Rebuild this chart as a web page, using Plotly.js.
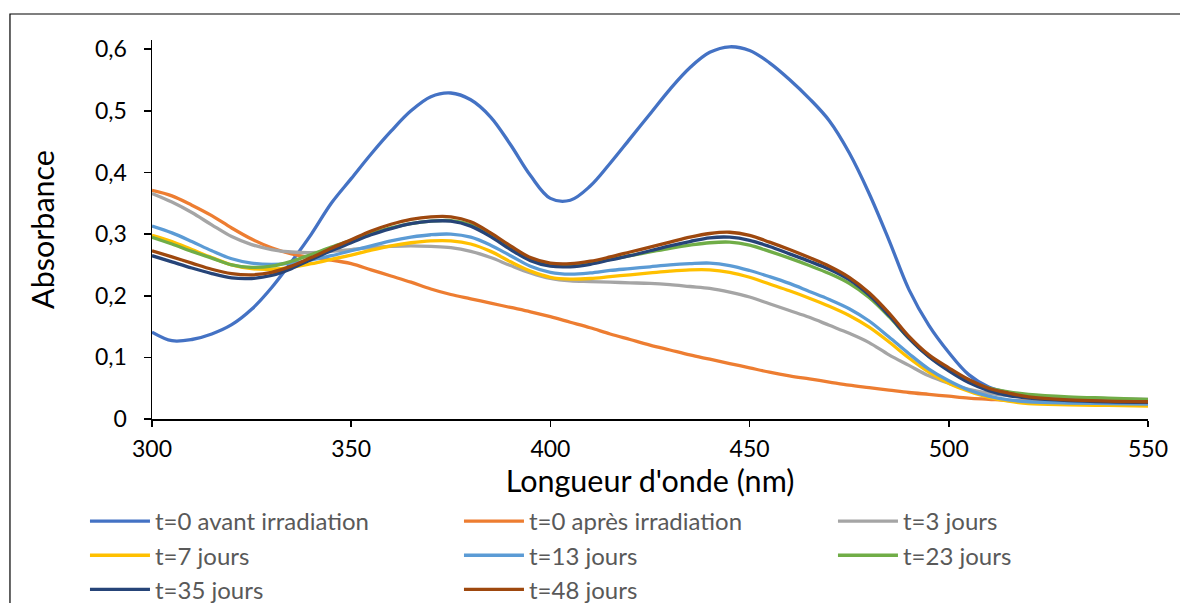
<!DOCTYPE html>
<html>
<head>
<meta charset="utf-8">
<script src="https://cdn.plot.ly/plotly-3.0.1.min.js"></script>
<style>
html,body{margin:0;padding:0;background:#fff;overflow:hidden;}
#chart{width:1180px;height:603px;}
</style>
</head>
<body>
<div id="chart"></div>
<script>
// Wavelengths (nm)
var wavelengths = [300,305,310,315,320,325,330,335,340,345,350,355,360,365,370,375,380,385,390,395,400,405,410,415,420,425,430,435,440,445,450,455,460,465,470,475,480,485,490,495,500,505,510,515,520,530,540,550];

var seriesNames = ["t=0 avant irradiation","t=0 après irradiation","t=3 jours","t=7 jours","t=13 jours","t=23 jours","t=35 jours","t=48 jours"];
var seriesColors = ["#4472C4","#ED7D31","#A5A5A5","#FFC000","#5B9BD5","#70AD47","#264478","#9E480E"];

var avantIrradiation = [0.141,0.127,0.129,0.138,0.153,0.178,0.213,0.255,0.300,0.350,0.390,0.430,0.467,0.500,0.523,0.529,0.518,0.490,0.445,0.395,0.358,0.355,0.378,0.415,0.455,0.495,0.535,0.570,0.595,0.604,0.598,0.578,0.551,0.520,0.484,0.432,0.366,0.290,0.210,0.152,0.108,0.072,0.052,0.043,0.038,0.034,0.031,0.029];
var apresIrradiation = [0.371,0.362,0.347,0.330,0.310,0.292,0.278,0.268,0.262,0.258,0.252,0.242,0.232,0.222,0.211,0.202,0.195,0.188,0.181,0.174,0.166,0.157,0.148,0.138,0.129,0.120,0.112,0.104,0.097,0.090,0.083,0.076,0.070,0.065,0.060,0.055,0.051,0.047,0.043,0.040,0.037,0.034,0.032,0.030,0.029,0.027,0.025,0.024];
var jours3 = [0.366,0.352,0.335,0.315,0.296,0.283,0.275,0.271,0.270,0.272,0.275,0.278,0.280,0.281,0.280,0.278,0.272,0.262,0.249,0.237,0.228,0.224,0.223,0.222,0.221,0.220,0.218,0.215,0.212,0.206,0.198,0.187,0.176,0.165,0.152,0.139,0.124,0.104,0.087,0.070,0.058,0.048,0.042,0.038,0.036,0.034,0.033,0.032];
var jours7 = [0.298,0.288,0.275,0.262,0.250,0.244,0.243,0.246,0.252,0.259,0.266,0.274,0.281,0.286,0.289,0.289,0.284,0.272,0.255,0.240,0.230,0.227,0.228,0.231,0.234,0.237,0.240,0.242,0.242,0.238,0.230,0.219,0.208,0.196,0.183,0.168,0.149,0.125,0.099,0.076,0.058,0.045,0.035,0.029,0.025,0.023,0.022,0.021];
var jours13 = [0.313,0.302,0.288,0.273,0.260,0.253,0.251,0.253,0.258,0.265,0.273,0.281,0.289,0.295,0.299,0.300,0.295,0.282,0.265,0.248,0.238,0.235,0.237,0.241,0.244,0.247,0.250,0.252,0.253,0.249,0.241,0.231,0.220,0.207,0.194,0.179,0.159,0.133,0.106,0.081,0.062,0.047,0.037,0.031,0.028,0.026,0.025,0.024];
var jours23 = [0.295,0.284,0.272,0.261,0.250,0.246,0.248,0.256,0.267,0.279,0.290,0.301,0.310,0.317,0.321,0.322,0.315,0.298,0.277,0.259,0.250,0.249,0.253,0.259,0.265,0.271,0.277,0.282,0.286,0.287,0.282,0.272,0.261,0.249,0.236,0.220,0.197,0.166,0.131,0.102,0.080,0.062,0.050,0.044,0.040,0.036,0.034,0.032];
var jours35 = [0.265,0.255,0.245,0.236,0.229,0.228,0.233,0.244,0.259,0.273,0.286,0.299,0.309,0.317,0.321,0.321,0.313,0.296,0.275,0.257,0.248,0.247,0.251,0.258,0.265,0.273,0.281,0.288,0.294,0.295,0.290,0.280,0.268,0.256,0.243,0.226,0.201,0.168,0.131,0.101,0.078,0.059,0.046,0.038,0.034,0.030,0.028,0.027];
var jours48 = [0.273,0.263,0.253,0.243,0.236,0.234,0.238,0.248,0.262,0.277,0.291,0.305,0.316,0.324,0.328,0.328,0.320,0.302,0.281,0.262,0.253,0.252,0.256,0.263,0.271,0.279,0.287,0.295,0.301,0.303,0.298,0.287,0.275,0.262,0.248,0.230,0.205,0.172,0.134,0.104,0.083,0.064,0.050,0.042,0.036,0.031,0.029,0.028];

var allSeries = [avantIrradiation, apresIrradiation, jours3, jours7, jours13, jours23, jours35, jours48];

var font = "Lato, 'Open Sans', sans-serif";

var traces = allSeries.map(function(vals, i){
  return {
    type: 'scatter', mode: 'lines',
    x: wavelengths, y: vals,
    name: seriesNames[i],
    line: {color: seriesColors[i], width: 3.3, shape: 'spline', smoothing: 1},
    hoverinfo: 'x+y'
  };
});

var layout = {
  width: 1180, height: 603,
  paper_bgcolor: '#ffffff', plot_bgcolor: '#ffffff',
  separators: ', ',
  margin: {l: 152, r: 32, t: 40, b: 184, autoexpand: false},
  font: {family: font, color: '#000000'},
  showlegend: true,
  xaxis: {
    range: [300, 550], dtick: 50, tick0: 300,
    showgrid: false, zeroline: false,
    showline: true, linecolor: '#000000', linewidth: 1.5,
    ticks: 'outside', ticklen: 6, tickcolor: '#000000', tickwidth: 1.5,
    ticklabelstandoff: 3,
    tickfont: {family: font, size: 23, color: '#000000'},
    title: {text: "Longueur d'onde (nm)", font: {family: font, size: 30.5, color: '#000000'}, standoff: 8}
  },
  yaxis: {
    range: [0, 0.615], dtick: 0.1, tick0: 0,
    showgrid: false, zeroline: false,
    showline: true, linecolor: '#000000', linewidth: 1.5,
    ticks: 'outside', ticklen: 7, tickcolor: '#000000', tickwidth: 1.5,
    ticklabelstandoff: 12,
    tickfont: {family: font, size: 23, color: '#000000'},
    title: {text: 'Absorbance', font: {family: font, size: 30.5, color: '#000000'}, standoff: 31}
  },
  legend: {
    orientation: 'h',
    xref: 'paper', yref: 'paper',
    x: -0.0673, y: -0.211, xanchor: 'left', yanchor: 'top',
    entrywidth: 299, entrywidthmode: 'pixels',
    itemwidth: 60,
    font: {family: font, size: 24, color: '#595959'},
    bgcolor: 'rgba(0,0,0,0)', borderwidth: 0,
    traceorder: 'normal'
  },
  shapes: [{
    type: 'rect', xref: 'paper', yref: 'paper',
    x0: -0.1426, x1: 1.05, y0: -0.52, y1: 1.0686,
    line: {color: '#000000', width: 1.2}, fillcolor: 'rgba(0,0,0,0)'
  }]
};

Plotly.newPlot('chart', traces, layout, {displayModeBar: false, staticPlot: true});
</script>
</body>
</html>
